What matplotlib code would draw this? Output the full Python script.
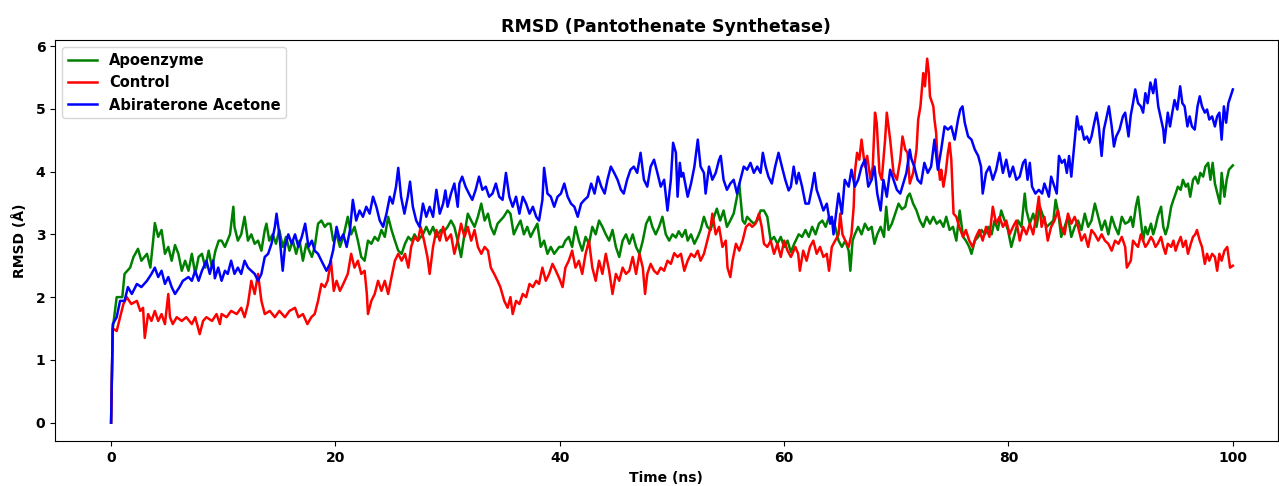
import matplotlib
matplotlib.use("Agg")
import matplotlib.pyplot as plt

# ── RMSD readings (time in ns, RMSD in Å) ─────────────────────
apo_pts = [
    (0.0, 0.0), (0.15, 1.5), (0.5, 2.0), (1.0, 2.0), (1.2, 2.37), (1.7, 2.47), (2.0, 2.64), (2.4, 2.77),
    (2.7, 2.58), (3.2, 2.69), (3.5, 2.47), (3.75, 2.9), (3.9, 3.18), (4.2, 2.96), (4.5, 3.07), (4.8, 2.69),
    (5.1, 2.8), (5.4, 2.58), (5.7, 2.83), (6.0, 2.69), (6.3, 2.42), (6.6, 2.58), (6.9, 2.42), (7.2, 2.69),
    (7.5, 2.37), (7.8, 2.64), (8.1, 2.69), (8.4, 2.47), (8.7, 2.74), (9.0, 2.47), (9.3, 2.74), (9.6, 2.9),
    (9.85, 2.9), (10.15, 2.8), (10.6, 3.0), (10.9, 3.44), (11.0, 3.12), (11.3, 2.9), (11.6, 3.0), (11.9, 3.28),
    (12.2, 2.9), (12.5, 3.0), (12.8, 2.85), (13.1, 2.9), (13.4, 2.74), (13.7, 3.07), (13.85, 3.17), (14.1, 2.9),
    (14.4, 3.0), (14.7, 2.85), (15.0, 3.07), (15.3, 2.8), (15.6, 2.96), (15.9, 2.74), (16.2, 2.9), (16.5, 2.69),
    (16.8, 2.9), (17.1, 2.58), (17.4, 2.85), (17.9, 2.64), (18.15, 2.8), (18.45, 3.17), (18.75, 3.22), (19.05, 3.12),
    (19.3, 3.17), (19.55, 3.17), (19.8, 2.9), (20.1, 3.0), (20.4, 2.8), (20.7, 2.96), (21.1, 3.28), (21.4, 3.0),
    (21.7, 3.12), (22.0, 2.9), (22.3, 2.64), (22.6, 2.58), (22.9, 2.9), (23.2, 2.85), (23.5, 2.96), (23.8, 2.9),
    (24.1, 3.07), (24.4, 2.96), (24.7, 3.28), (25.0, 3.07), (25.3, 2.9), (25.6, 2.74), (25.9, 2.69), (26.2, 2.85),
    (26.5, 2.96), (26.8, 2.9), (27.05, 3.0), (27.35, 2.9), (27.8, 3.0), (28.1, 3.12), (28.4, 3.0), (28.7, 3.12),
    (29.0, 2.96), (29.4, 3.07), (29.7, 3.05), (30.0, 3.12), (30.3, 3.22), (30.6, 3.12), (30.9, 2.9), (31.2, 2.64),
    (31.5, 3.0), (31.8, 3.33), (32.1, 3.22), (32.4, 3.12), (32.7, 3.28), (33.0, 3.49), (33.3, 3.22), (33.6, 3.33),
    (33.85, 3.12), (34.15, 3.0), (34.45, 3.17), (34.7, 3.22), (35.0, 3.28), (35.35, 3.38), (35.6, 3.33), (35.9, 3.0),
    (36.2, 3.12), (36.5, 3.22), (36.8, 3.0), (37.1, 3.12), (37.4, 2.96), (37.7, 3.07), (38.0, 3.17), (38.3, 2.8),
    (38.6, 2.9), (38.9, 2.69), (39.2, 2.8), (39.5, 2.69), (39.95, 2.8), (40.25, 2.8), (40.5, 2.9), (40.8, 2.96),
    (41.1, 2.8), (41.4, 3.12), (41.7, 2.9), (42.0, 2.74), (42.3, 2.96), (42.6, 2.85), (42.9, 3.12), (43.2, 3.0),
    (43.5, 3.22), (43.8, 3.12), (44.1, 3.0), (44.4, 2.9), (44.7, 3.07), (45.0, 2.8), (45.3, 2.64), (45.6, 2.9),
    (45.9, 3.0), (46.2, 2.85), (46.5, 3.0), (46.8, 2.8), (47.1, 2.69), (47.4, 2.9), (47.7, 3.17), (48.0, 3.28),
    (48.25, 3.12), (48.55, 3.0), (48.85, 3.12), (49.15, 3.28), (49.45, 3.0), (49.75, 2.9), (50.05, 3.0), (50.35, 2.95),
    (50.6, 3.05), (50.9, 2.96), (51.2, 3.07), (51.4, 2.9), (51.7, 3.0), (52.0, 2.85), (52.3, 2.96), (52.55, 3.07),
    (52.85, 3.28), (53.15, 3.12), (53.45, 3.07), (53.75, 3.28), (54.0, 3.41), (54.3, 3.22), (54.6, 3.38), (54.9, 3.12),
    (55.2, 3.22), (55.5, 3.33), (55.8, 3.6), (56.0, 3.81), (56.1, 3.6), (56.3, 3.22), (56.5, 3.17), (56.7, 3.28),
    (57.0, 3.22), (57.3, 3.17), (57.6, 3.22), (57.9, 3.38), (58.2, 3.38), (58.5, 3.28), (58.8, 2.9), (59.1, 2.96),
    (59.4, 2.85), (59.7, 2.96), (60.0, 2.8), (60.3, 2.9), (60.6, 2.72), (60.9, 2.85), (61.3, 3.0), (61.6, 2.96),
    (61.9, 3.07), (62.2, 2.96), (62.5, 3.12), (62.8, 3.0), (63.1, 3.17), (63.4, 3.22), (63.7, 3.12), (64.0, 3.28),
    (64.3, 3.22), (64.55, 3.12), (64.85, 2.9), (65.15, 2.8), (65.45, 2.9), (65.75, 2.74), (65.9, 2.42), (66.1, 2.9),
    (66.3, 3.0), (66.6, 3.12), (66.9, 3.0), (67.2, 3.17), (67.5, 3.07), (67.8, 3.12), (68.05, 2.85), (68.3, 3.0),
    (68.6, 3.12), (68.9, 2.96), (69.1, 3.44), (69.3, 3.07), (69.6, 3.17), (69.9, 3.33), (70.2, 3.49), (70.5, 3.4),
    (70.8, 3.44), (71.0, 3.6), (71.2, 3.65), (71.5, 3.49), (71.8, 3.38), (72.1, 3.22), (72.4, 3.12), (72.7, 3.28),
    (73.0, 3.17), (73.3, 3.28), (73.6, 3.17), (73.9, 3.22), (74.2, 3.12), (74.45, 3.28), (74.75, 3.07), (75.05, 3.12),
    (75.35, 2.9), (75.65, 3.38), (75.95, 2.96), (76.2, 2.9), (76.5, 2.8), (76.7, 2.69), (77.0, 2.9), (77.3, 2.96),
    (77.6, 3.07), (77.9, 3.0), (78.2, 3.12), (78.5, 3.0), (78.75, 3.22), (79.05, 3.07), (79.35, 3.38), (79.65, 3.22),
    (79.95, 3.07), (80.25, 2.8), (80.55, 3.0), (80.85, 3.22), (81.15, 3.12), (81.45, 3.65), (81.6, 3.38), (81.9, 3.17),
    (82.2, 3.33), (82.5, 3.12), (82.8, 3.44), (83.1, 3.28), (83.4, 3.12), (83.7, 3.17), (84.0, 3.22), (84.2, 3.55),
    (84.45, 3.33), (84.7, 2.96), (85.0, 3.12), (85.3, 3.28), (85.6, 2.96), (85.9, 3.12), (86.2, 3.22), (86.5, 3.07),
    (86.8, 3.33), (87.1, 3.12), (87.4, 3.22), (87.7, 3.49), (88.0, 3.28), (88.3, 3.07), (88.6, 3.22), (88.9, 3.0),
    (89.2, 3.28), (89.5, 3.12), (89.8, 3.0), (90.1, 3.28), (90.4, 3.17), (90.7, 3.2), (90.9, 3.28), (91.1, 3.12),
    (91.35, 3.44), (91.55, 3.6), (91.8, 3.22), (92.0, 2.9), (92.2, 3.12), (92.4, 3.0), (92.7, 3.17), (92.9, 3.0),
    (93.1, 3.12), (93.3, 3.28), (93.6, 3.44), (93.8, 3.12), (94.0, 3.0), (94.2, 3.12), (94.5, 3.44), (94.7, 3.55),
    (94.9, 3.65), (95.1, 3.76), (95.35, 3.71), (95.55, 3.87), (95.8, 3.76), (96.0, 3.81), (96.2, 3.6), (96.45, 3.87),
    (96.65, 3.92), (96.9, 3.81), (97.1, 3.98), (97.35, 3.92), (97.55, 4.08), (97.8, 4.14), (98.0, 3.87), (98.2, 4.14),
    (98.4, 3.81), (98.7, 3.6), (98.85, 3.49), (99.0, 3.98), (99.25, 3.6), (99.45, 3.87), (99.65, 4.03), (100.0, 4.1),
]

control_pts = [
    (0.0, 0.0), (0.15, 1.5), (0.5, 1.46), (0.8, 1.68), (1.1, 1.89), (1.4, 2.0), (1.8, 1.89), (2.3, 1.94),
    (2.6, 1.78), (2.85, 1.83), (3.0, 1.35), (3.3, 1.73), (3.6, 1.62), (3.9, 1.78), (4.2, 1.62), (4.5, 1.73),
    (4.8, 1.57), (5.1, 2.05), (5.25, 1.68), (5.5, 1.57), (5.85, 1.68), (6.3, 1.62), (6.7, 1.68), (7.2, 1.57),
    (7.5, 1.68), (7.9, 1.41), (8.2, 1.62), (8.5, 1.68), (9.0, 1.62), (9.4, 1.73), (9.7, 1.57), (9.85, 1.73),
    (10.3, 1.68), (10.7, 1.78), (11.2, 1.73), (11.6, 1.83), (11.9, 1.68), (12.2, 1.89), (12.5, 2.26), (12.8, 2.05),
    (13.1, 2.37), (13.4, 1.94), (13.7, 1.73), (14.15, 1.78), (14.6, 1.68), (15.0, 1.78), (15.5, 1.68), (15.9, 1.78),
    (16.4, 1.83), (16.7, 1.68), (17.1, 1.73), (17.5, 1.57), (17.85, 1.68), (18.15, 1.73), (18.45, 1.94), (18.75, 2.21),
    (19.05, 2.16), (19.3, 2.26), (19.6, 2.58), (19.85, 2.1), (20.1, 2.26), (20.4, 2.1), (20.7, 2.21), (21.1, 2.37),
    (21.4, 2.69), (21.7, 2.47), (22.0, 2.58), (22.3, 2.37), (22.6, 2.42), (22.8, 2.05), (22.9, 1.73), (23.2, 1.94),
    (23.5, 2.05), (23.8, 2.26), (24.1, 2.1), (24.4, 2.26), (24.7, 2.05), (25.0, 2.32), (25.3, 2.58), (25.6, 2.69),
    (25.9, 2.58), (26.2, 2.69), (26.5, 2.47), (26.75, 2.8), (27.05, 2.96), (27.35, 2.9), (27.6, 3.12), (27.9, 2.9),
    (28.2, 2.64), (28.4, 2.37), (28.7, 2.8), (29.0, 3.07), (29.3, 2.9), (29.6, 3.12), (29.9, 2.9), (30.3, 3.0),
    (30.6, 2.69), (30.9, 2.9), (31.2, 3.17), (31.5, 2.96), (31.8, 3.12), (32.1, 2.9), (32.4, 3.07), (32.7, 2.8),
    (33.0, 2.69), (33.3, 2.8), (33.6, 2.74), (33.85, 2.47), (34.15, 2.37), (34.45, 2.26), (34.7, 2.16), (35.05, 1.94),
    (35.35, 1.83), (35.6, 2.0), (35.8, 1.73), (36.1, 1.94), (36.4, 1.89), (36.7, 2.05), (37.0, 2.0), (37.3, 2.21),
    (37.6, 2.16), (37.9, 2.26), (38.15, 2.21), (38.45, 2.47), (38.75, 2.26), (39.05, 2.37), (39.35, 2.53), (39.65, 2.42),
    (39.95, 2.3), (40.25, 2.16), (40.5, 2.47), (40.8, 2.58), (41.1, 2.74), (41.4, 2.47), (41.7, 2.58), (42.0, 2.37),
    (42.3, 2.69), (42.6, 2.9), (42.9, 2.47), (43.2, 2.26), (43.5, 2.58), (43.8, 2.37), (44.1, 2.69), (44.4, 2.42),
    (44.7, 2.05), (45.0, 2.37), (45.3, 2.26), (45.6, 2.47), (45.9, 2.37), (46.2, 2.42), (46.5, 2.64), (46.8, 2.37),
    (47.1, 2.69), (47.4, 2.47), (47.6, 2.05), (47.8, 2.37), (48.1, 2.53), (48.4, 2.42), (48.7, 2.37), (49.0, 2.47),
    (49.3, 2.42), (49.6, 2.58), (49.9, 2.53), (50.2, 2.7), (50.5, 2.64), (50.8, 2.69), (51.1, 2.42), (51.4, 2.58),
    (51.7, 2.69), (52.0, 2.64), (52.3, 2.74), (52.55, 2.58), (52.85, 2.69), (53.15, 2.9), (53.45, 3.12), (53.6, 3.33),
    (53.9, 3.0), (54.2, 3.12), (54.5, 2.8), (54.8, 2.9), (54.95, 2.47), (55.2, 2.32), (55.4, 2.58), (55.7, 2.85),
    (56.0, 2.74), (56.3, 2.9), (56.6, 3.12), (56.9, 3.17), (57.15, 3.12), (57.45, 3.17), (57.75, 3.33), (58.0, 3.12),
    (58.2, 2.85), (58.5, 2.8), (58.8, 2.9), (59.1, 2.69), (59.4, 2.85), (59.7, 2.64), (60.0, 2.9), (60.3, 2.74),
    (60.6, 2.64), (61.0, 2.8), (61.25, 2.69), (61.4, 2.42), (61.7, 2.74), (62.0, 2.58), (62.3, 2.8), (62.6, 2.9),
    (62.9, 2.69), (63.2, 2.8), (63.5, 2.64), (63.8, 2.69), (64.0, 2.42), (64.25, 2.8), (64.55, 2.9), (64.85, 3.0),
    (65.0, 3.33), (65.2, 3.0), (65.45, 2.9), (65.75, 2.8), (66.0, 3.0), (66.2, 3.44), (66.3, 3.98), (66.5, 4.3),
    (66.7, 4.19), (66.9, 4.51), (67.2, 4.08), (67.4, 4.25), (67.7, 3.87), (67.9, 4.08), (68.1, 4.94), (68.25, 4.78),
    (68.5, 3.98), (68.7, 3.87), (69.0, 4.51), (69.15, 4.94), (69.45, 4.51), (69.75, 3.98), (70.05, 3.87), (70.35, 4.19),
    (70.55, 4.56), (70.8, 4.35), (71.0, 4.3), (71.2, 3.81), (71.5, 3.98), (71.8, 4.35), (71.95, 4.83), (72.15, 5.04),
    (72.4, 5.57), (72.55, 5.36), (72.75, 5.8), (72.9, 5.57), (73.0, 5.2), (73.3, 5.04), (73.4, 4.83), (73.55, 4.62),
    (73.65, 4.25), (73.9, 3.87), (74.0, 4.03), (74.2, 3.76), (74.4, 3.98), (74.6, 4.3), (74.75, 4.46), (74.9, 4.19),
    (75.1, 3.33), (75.35, 3.28), (75.6, 3.12), (75.95, 2.96), (76.2, 3.07), (76.5, 2.9), (76.8, 2.8), (77.1, 2.96),
    (77.4, 3.07), (77.7, 2.9), (78.0, 3.12), (78.3, 2.96), (78.6, 3.44), (78.9, 3.17), (79.2, 3.28), (79.5, 3.12),
    (79.8, 3.22), (80.1, 3.0), (80.4, 3.12), (80.7, 3.22), (81.0, 2.9), (81.3, 3.12), (81.6, 3.0), (81.9, 3.17),
    (82.2, 3.0), (82.5, 3.33), (82.7, 3.6), (82.95, 3.12), (83.2, 3.28), (83.5, 2.9), (83.8, 3.12), (84.1, 3.22),
    (84.4, 3.38), (84.7, 3.12), (85.0, 3.0), (85.3, 3.33), (85.6, 3.17), (85.9, 3.28), (86.2, 3.12), (86.5, 2.9),
    (86.8, 3.0), (87.1, 2.8), (87.4, 3.07), (87.7, 3.0), (88.0, 2.9), (88.3, 3.0), (88.6, 2.9), (88.9, 2.85),
    (89.2, 2.74), (89.5, 2.9), (89.8, 2.85), (90.1, 2.96), (90.4, 2.8), (90.55, 2.47), (90.9, 2.58), (91.1, 2.9),
    (91.3, 2.85), (91.55, 2.8), (91.8, 3.0), (92.0, 2.9), (92.2, 2.8), (92.4, 2.85), (92.7, 2.96), (92.9, 2.9),
    (93.1, 2.8), (93.3, 2.85), (93.6, 2.96), (93.8, 2.8), (94.0, 2.69), (94.2, 2.85), (94.5, 2.8), (94.7, 2.9),
    (94.9, 2.74), (95.1, 2.85), (95.35, 2.96), (95.56, 2.8), (95.8, 2.9), (96.0, 2.69), (96.25, 2.85), (96.45, 2.96),
    (96.65, 3.0), (96.8, 3.07), (97.05, 2.9), (97.25, 2.8), (97.5, 2.53), (97.7, 2.69), (97.9, 2.58), (98.15, 2.69),
    (98.4, 2.64), (98.6, 2.42), (98.8, 2.69), (99.0, 2.58), (99.25, 2.74), (99.5, 2.8), (99.75, 2.47), (100.0, 2.5),
]

abi_pts = [
    (0.0, 0.0), (0.15, 1.57), (0.5, 1.68), (0.8, 1.94), (1.2, 1.94), (1.5, 2.16), (1.85, 2.05), (2.3, 2.21),
    (2.7, 2.16), (3.2, 2.26), (3.6, 2.37), (3.9, 2.47), (4.2, 2.32), (4.5, 2.42), (4.8, 2.21), (5.1, 2.32),
    (5.4, 2.16), (5.7, 2.05), (6.1, 2.16), (6.4, 2.26), (6.9, 2.32), (7.2, 2.26), (7.5, 2.42), (7.8, 2.26),
    (8.1, 2.42), (8.5, 2.58), (8.8, 2.37), (9.1, 2.58), (9.25, 2.3), (9.55, 2.47), (9.85, 2.26), (10.15, 2.42),
    (10.4, 2.37), (10.7, 2.58), (11.0, 2.37), (11.3, 2.47), (11.6, 2.37), (11.9, 2.58), (12.2, 2.47), (12.5, 2.42),
    (12.8, 2.37), (13.1, 2.26), (13.4, 2.37), (13.7, 2.64), (14.0, 2.69), (14.3, 2.85), (14.6, 3.12), (14.75, 3.33),
    (15.0, 3.0), (15.3, 2.42), (15.5, 2.8), (15.8, 3.0), (16.1, 2.85), (16.4, 3.0), (16.7, 2.8), (17.0, 2.96),
    (17.3, 3.17), (17.6, 2.8), (17.9, 2.9), (18.15, 2.74), (18.45, 2.69), (18.75, 2.58), (19.2, 2.42), (19.5, 2.53),
    (19.8, 2.75), (20.1, 3.12), (20.4, 2.9), (20.7, 3.0), (21.0, 2.8), (21.3, 3.07), (21.55, 3.55), (21.85, 3.22),
    (22.15, 3.38), (22.45, 3.28), (22.75, 3.44), (23.05, 3.33), (23.35, 3.6), (23.65, 3.44), (23.95, 3.22), (24.25, 3.12),
    (24.55, 3.33), (24.85, 3.6), (25.1, 3.49), (25.4, 3.76), (25.6, 4.06), (25.85, 3.6), (26.15, 3.33), (26.45, 3.6),
    (26.65, 3.84), (26.9, 3.44), (27.2, 3.22), (27.5, 3.12), (27.8, 3.49), (28.1, 3.28), (28.4, 3.44), (28.7, 3.28),
    (29.0, 3.71), (29.3, 3.33), (29.6, 3.49), (29.8, 3.7), (30.0, 3.44), (30.3, 3.65), (30.6, 3.81), (30.9, 3.44),
    (31.05, 3.81), (31.3, 3.92), (31.6, 3.76), (31.9, 3.65), (32.2, 3.55), (32.5, 3.71), (32.8, 3.92), (33.1, 3.71),
    (33.4, 3.76), (33.7, 3.6), (34.0, 3.65), (34.3, 3.81), (34.6, 3.6), (34.9, 3.55), (35.2, 3.98), (35.5, 3.6),
    (35.8, 3.44), (36.1, 3.6), (36.4, 3.33), (36.7, 3.6), (37.0, 3.49), (37.3, 3.33), (37.6, 3.44), (37.9, 3.28),
    (38.15, 3.22), (38.45, 3.55), (38.6, 4.06), (38.9, 3.65), (39.2, 3.6), (39.5, 3.44), (39.8, 3.6), (40.1, 3.65),
    (40.4, 3.81), (40.7, 3.6), (41.0, 3.49), (41.3, 3.44), (41.6, 3.28), (41.9, 3.49), (42.2, 3.55), (42.5, 3.6),
    (42.8, 3.81), (43.1, 3.65), (43.4, 3.92), (43.7, 3.76), (44.0, 3.65), (44.25, 3.87), (44.55, 4.08), (44.85, 3.98),
    (45.15, 3.87), (45.45, 3.71), (45.7, 3.65), (46.0, 3.87), (46.3, 4.03), (46.6, 4.08), (46.9, 3.98), (47.2, 4.3),
    (47.5, 3.87), (47.8, 3.76), (48.1, 4.08), (48.4, 4.19), (48.7, 3.98), (49.0, 3.76), (49.3, 3.87), (49.6, 3.38),
    (49.9, 3.87), (50.1, 4.46), (50.35, 4.3), (50.5, 3.6), (50.7, 4.14), (50.85, 3.92), (51.0, 3.98), (51.4, 3.6),
    (51.7, 3.81), (52.0, 4.08), (52.3, 4.51), (52.55, 4.08), (52.85, 3.98), (53.0, 3.65), (53.3, 4.08), (53.6, 3.87),
    (53.9, 3.98), (54.2, 4.19), (54.35, 4.25), (54.6, 3.87), (54.9, 3.71), (55.2, 3.81), (55.5, 3.87), (55.8, 3.65),
    (56.1, 3.87), (56.4, 4.08), (56.7, 4.03), (57.0, 4.14), (57.3, 3.98), (57.6, 4.08), (57.9, 3.98), (58.1, 4.3),
    (58.35, 4.08), (58.6, 3.92), (58.9, 3.81), (59.2, 4.08), (59.5, 4.3), (59.8, 4.08), (60.1, 3.87), (60.4, 3.7),
    (60.6, 3.76), (60.85, 4.08), (61.1, 3.81), (61.3, 3.98), (61.6, 3.76), (61.9, 3.49), (62.2, 3.49), (62.5, 3.76),
    (62.7, 3.98), (62.9, 3.71), (63.2, 3.55), (63.5, 3.38), (63.8, 3.49), (64.1, 3.17), (64.25, 3.28), (64.4, 3.0),
    (64.7, 3.44), (64.85, 3.65), (65.15, 3.33), (65.4, 3.87), (65.75, 3.76), (66.0, 4.03), (66.3, 3.76), (66.6, 3.87),
    (66.9, 4.08), (67.2, 4.19), (67.5, 3.76), (67.8, 3.87), (68.05, 4.08), (68.3, 3.65), (68.6, 3.38), (68.85, 3.87),
    (69.15, 3.6), (69.45, 4.03), (69.75, 3.87), (70.05, 3.71), (70.35, 3.65), (70.6, 3.8), (70.9, 3.98), (71.2, 4.35),
    (71.35, 4.2), (71.6, 4.08), (71.9, 3.87), (72.2, 3.81), (72.5, 4.14), (72.8, 3.98), (73.1, 4.08), (73.4, 4.51),
    (73.7, 4.03), (74.0, 4.35), (74.3, 4.72), (74.6, 4.67), (74.9, 4.72), (75.2, 4.51), (75.5, 4.83), (75.7, 4.99),
    (75.9, 5.04), (76.1, 4.78), (76.4, 4.56), (76.7, 4.51), (77.0, 4.35), (77.3, 4.25), (77.55, 4.08), (77.7, 3.65),
    (78.0, 3.98), (78.3, 4.08), (78.6, 3.87), (78.9, 4.03), (79.2, 4.3), (79.5, 3.98), (79.8, 4.19), (80.1, 3.92),
    (80.4, 4.08), (80.7, 3.87), (81.0, 3.92), (81.3, 4.14), (81.5, 4.19), (81.7, 3.87), (81.9, 4.14), (82.1, 3.76),
    (82.4, 3.65), (82.7, 3.71), (83.0, 3.65), (83.2, 3.81), (83.4, 3.71), (83.6, 3.6), (83.8, 3.92), (84.1, 3.76),
    (84.3, 3.65), (84.5, 4.25), (84.75, 4.14), (85.0, 4.19), (85.2, 3.98), (85.4, 4.25), (85.6, 3.92), (85.8, 4.3),
    (86.1, 4.88), (86.3, 4.67), (86.5, 4.72), (86.75, 4.51), (87.0, 4.56), (87.2, 4.46), (87.4, 4.56), (87.65, 4.78),
    (87.85, 4.94), (88.05, 4.72), (88.3, 4.25), (88.5, 4.67), (88.7, 4.83), (88.95, 5.04), (89.2, 4.72), (89.4, 4.4),
    (89.6, 4.56), (89.9, 4.67), (90.2, 4.88), (90.4, 4.94), (90.7, 4.56), (90.9, 4.9), (91.1, 5.09), (91.3, 5.31),
    (91.55, 5.09), (91.8, 5.04), (92.0, 4.94), (92.2, 5.25), (92.4, 5.09), (92.65, 5.42), (92.9, 5.25), (93.1, 5.47),
    (93.35, 5.04), (93.6, 4.83), (93.8, 4.67), (93.9, 4.46), (94.2, 4.94), (94.4, 4.72), (94.6, 4.94), (94.8, 5.14),
    (95.05, 4.99), (95.3, 5.36), (95.5, 5.09), (95.7, 5.04), (95.95, 4.72), (96.15, 4.88), (96.35, 4.72), (96.6, 4.67),
    (96.85, 5.04), (97.05, 5.2), (97.25, 5.04), (97.5, 4.94), (97.7, 4.99), (97.9, 4.83), (98.15, 4.88), (98.4, 4.72),
    (98.6, 4.88), (98.8, 4.94), (99.0, 4.51), (99.2, 5.04), (99.4, 4.78), (99.6, 5.09), (100.0, 5.31),
]

series = [
    ("Apoenzyme", apo_pts, "green"),
    ("Control", control_pts, "red"),
    ("Abiraterone Acetone", abi_pts, "blue"),
]

x_ticks = [0, 20, 40, 60, 80, 100]
y_ticks = [0, 1, 2, 3, 4, 5, 6]

# ── Figure ────────────────────────────────────────────────────
fig, ax = plt.subplots(figsize=(12.79, 4.86), dpi=100)
fig.subplots_adjust(left=0.043, right=0.999, top=0.918, bottom=0.093)

for name, pts, color in series:
    t, v = zip(*pts)
    ax.plot(t, v, color=color, linewidth=1.8, label=name)

ax.set_xlim(-5, 104)
ax.set_ylim(-0.29, 6.1)
ax.set_xticks(x_ticks)
ax.set_yticks(y_ticks)
for lbl in ax.get_xticklabels() + ax.get_yticklabels():
    lbl.set_fontweight("bold")
ax.tick_params(labelsize=10)

ax.set_title("RMSD (Pantothenate Synthetase)", fontsize=12.5, fontweight="bold")
ax.set_xlabel("Time (ns)", fontsize=10, fontweight="bold", labelpad=5)
ax.set_ylabel("RMSD (Å)", fontsize=10, fontweight="bold", labelpad=6)
ax.legend(loc="upper left", prop={"weight": "bold", "size": 10.5})

fig.savefig("out.png", dpi=100)
